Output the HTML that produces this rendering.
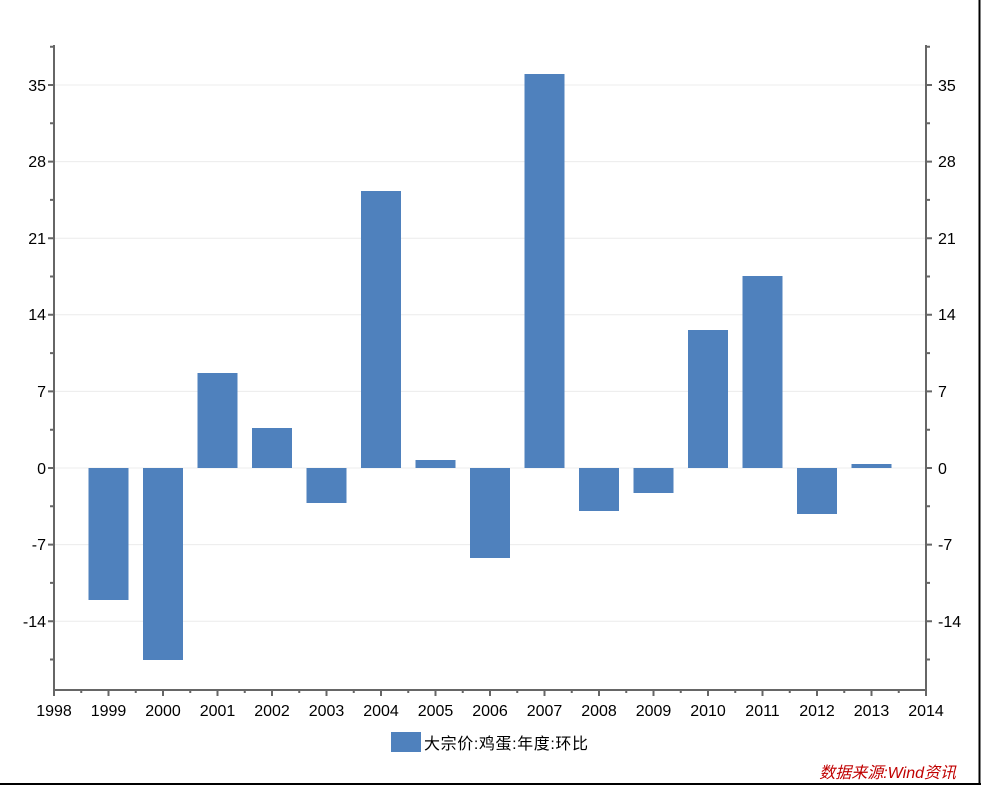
<!DOCTYPE html>
<html><head><meta charset="utf-8"><style>body{margin:0;background:#fff}svg{display:block}</style></head>
<body>
<svg width="981" height="785" xmlns="http://www.w3.org/2000/svg" font-family="'Liberation Sans','Noto Sans CJK SC',sans-serif" font-size="16">
<rect width="981" height="785" fill="#fff"/>
<line x1="979.5" y1="0" x2="979.5" y2="785" stroke="#000" stroke-width="2"/>
<line x1="0" y1="784" x2="981" y2="784" stroke="#000" stroke-width="2"/>
<g stroke="#ececec" stroke-width="1">
<line x1="55" x2="925" y1="85" y2="85"/><line x1="55" x2="925" y1="161.6" y2="161.6"/><line x1="55" x2="925" y1="238.2" y2="238.2"/><line x1="55" x2="925" y1="314.8" y2="314.8"/><line x1="55" x2="925" y1="391.4" y2="391.4"/><line x1="55" x2="925" y1="468" y2="468"/><line x1="55" x2="925" y1="544.6" y2="544.6"/><line x1="55" x2="925" y1="621.2" y2="621.2"/>
</g>
<g fill="#4f81bd">
<rect x="88.5" y="468" width="40" height="132"/>
<rect x="143" y="468" width="40" height="192"/>
<rect x="197.5" y="373" width="40" height="95"/>
<rect x="252" y="428" width="40" height="40"/>
<rect x="306.5" y="468" width="40" height="35"/>
<rect x="361" y="191" width="40" height="277"/>
<rect x="415.5" y="460" width="40" height="8"/>
<rect x="470" y="468" width="40" height="90"/>
<rect x="524.5" y="74" width="40" height="394"/>
<rect x="579" y="468" width="40" height="43"/>
<rect x="633.5" y="468" width="40" height="25"/>
<rect x="688" y="330" width="40" height="138"/>
<rect x="742.5" y="276" width="40" height="192"/>
<rect x="797" y="468" width="40" height="46"/>
<rect x="851.5" y="464" width="40" height="4"/>
</g>
<g stroke="#666" stroke-width="2" fill="none">
<line x1="54" y1="45" x2="54" y2="691"/>
<line x1="926" y1="45" x2="926" y2="691"/>
<line x1="53" y1="690" x2="927" y2="690"/>
<path d="M48 85H54M48 161.6H54M48 238.2H54M48 314.8H54M48 391.4H54M48 468H54M48 544.6H54M48 621.2H54"/>
<path d="M926 85H932M926 161.6H932M926 238.2H932M926 314.8H932M926 391.4H932M926 468H932M926 544.6H932M926 621.2H932"/>
<path d="M50 46.7H54M50 123.3H54M50 199.9H54M50 276.5H54M50 353.1H54M50 429.7H54M50 506.3H54M50 582.9H54M50 659.5H54"/>
<path d="M926 46.7H930M926 123.3H930M926 199.9H930M926 276.5H930M926 353.1H930M926 429.7H930M926 506.3H930M926 582.9H930M926 659.5H930"/>
<path d="M54 690V696M108.5 690V696M163 690V696M217.5 690V696M272 690V696M326.5 690V696M381 690V696M435.5 690V696M490 690V696M544.5 690V696M599 690V696M653.5 690V696M708 690V696M762.5 690V696M817 690V696M871.5 690V696M926 690V696"/>
<path d="M81.25 690V693M135.75 690V693M190.25 690V693M244.75 690V693M299.25 690V693M353.75 690V693M408.25 690V693M462.75 690V693M517.25 690V693M571.75 690V693M626.25 690V693M680.75 690V693M735.25 690V693M789.75 690V693M844.25 690V693M898.75 690V693"/>
</g>
<g fill="#000" text-anchor="end">
<text x="46" y="91">35</text><text x="46" y="167">28</text><text x="46" y="244">21</text><text x="46" y="320">14</text><text x="46" y="397">7</text><text x="46" y="474">0</text><text x="46" y="550">-7</text><text x="46" y="627">-14</text>
</g>
<g fill="#000">
<text x="938" y="91">35</text><text x="938" y="167">28</text><text x="938" y="244">21</text><text x="938" y="320">14</text><text x="938" y="397">7</text><text x="938" y="474">0</text><text x="938" y="550">-7</text><text x="938" y="627">-14</text>
</g>
<g fill="#000" text-anchor="middle">
<text x="54" y="716">1998</text><text x="108.5" y="716">1999</text><text x="163" y="716">2000</text><text x="217.5" y="716">2001</text><text x="272" y="716">2002</text><text x="326.5" y="716">2003</text><text x="381" y="716">2004</text><text x="435.5" y="716">2005</text><text x="490" y="716">2006</text><text x="544.5" y="716">2007</text><text x="599" y="716">2008</text><text x="653.5" y="716">2009</text><text x="708" y="716">2010</text><text x="762.5" y="716">2011</text><text x="817" y="716">2012</text><text x="871.5" y="716">2013</text><text x="926" y="716">2014</text>
</g>
<rect x="391" y="732" width="30" height="20" fill="#4f81bd"/>
<text x="424" y="749" fill="#000" font-size="16" textLength="164">大宗价:鸡蛋:年度:环比</text>
<text x="956" y="778" fill="#c00000" text-anchor="end" font-style="italic" font-size="16">数据来源:Wind资讯</text>
</svg>
</body></html>
